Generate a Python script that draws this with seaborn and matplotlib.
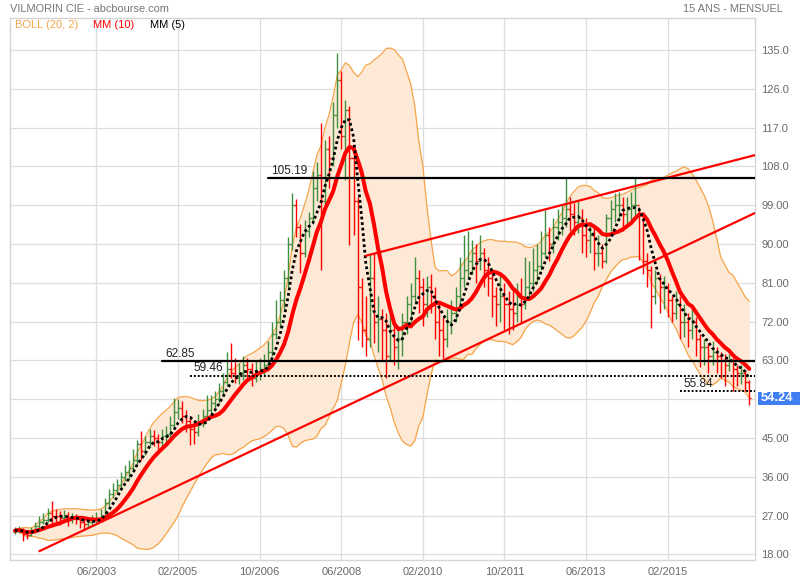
import numpy as np
import pandas as pd
import matplotlib
matplotlib.use("Agg")
import matplotlib.pyplot as plt
import matplotlib.transforms as mtransforms
from matplotlib.patches import Rectangle
import seaborn as sns

# ---------------- data (monthly OHLC, Oct 2001 -> Oct 2016) ----------------
start_month = "2001-10"
opens = [23.3, 23.5, 23.8, 22.8, 22.5, 23.2, 24.5, 25.5, 26.0, 27.5,
         27.0, 26.8, 26.5, 27.0, 26.0, 26.5, 26.2, 25.5, 25.0, 25.5,
         26.0, 26.5, 27.0, 30.0, 32.0, 33.0, 34.0, 36.0, 37.0, 38.0,
         40.0, 43.5, 42.0, 44.0, 45.5, 45.0, 44.0, 45.5, 46.0, 48.0,
         51.0, 52.0, 50.0, 49.0, 47.0, 46.5, 48.5, 50.0, 51.5, 53.0,
         54.0, 56.0, 58.0, 61.0, 60.0, 59.0, 60.0, 62.0, 61.0, 59.0,
         60.0, 61.0, 62.0, 65.0, 69.0, 72.0, 77.0, 82.0, 90.0, 99.0,
         94.0, 88.0, 93.0, 96.0, 103.0, 106.0, 100.0, 112.0, 110.0, 120.0,
         128.0, 115.0, 121.0, 110.0, 100.0, 80.0, 70.0, 68.0, 82.0, 72.0,
         72.5, 70.0, 64.0, 70.0, 66.0, 68.0, 72.0, 76.0, 78.0, 82.0,
         80.0, 76.0, 80.0, 78.0, 72.0, 70.0, 68.0, 72.0, 74.0, 78.0,
         82.0, 84.0, 86.0, 88.0, 86.0, 88.0, 84.0, 82.0, 78.0, 76.0,
         78.0, 76.0, 75.0, 74.0, 78.0, 76.0, 80.0, 81.0, 84.0, 85.0,
         88.0, 92.0, 90.0, 94.0, 95.0, 96.0, 98.0, 97.0, 95.0, 96.0,
         92.0, 91.0, 92.0, 88.0, 88.0, 86.0, 96.0, 98.0, 99.0, 99.0,
         97.0, 98.0, 99.0, 99.0, 97.0, 86.0, 84.0, 78.0, 82.0, 80.0,
         80.0, 77.0, 74.0, 76.0, 72.0, 72.0, 70.0, 72.0, 68.0, 66.0,
         66.0, 64.0, 65.0, 64.0, 63.0, 62.0, 63.0, 61.0, 60.0, 60.0,
         58.0]
highs = [24.3, 24.6, 24.2, 23.6, 24.3, 25.6, 26.8, 27.5, 28.8, 30.4,
         28.6, 28.0, 28.4, 27.8, 27.6, 27.3, 26.8, 26.4, 26.6, 27.2,
         27.8, 28.6, 31.0, 33.2, 34.5, 35.6, 37.2, 38.8, 39.8, 42.5,
         44.5, 46.6, 45.5, 47.0, 46.8, 46.0, 47.0, 47.8, 50.0, 54.3,
         54.0, 53.5, 51.5, 50.0, 48.8, 50.5, 51.8, 55.0, 55.0, 56.0,
         57.8, 60.0, 65.0, 67.0, 63.5, 62.5, 64.0, 63.5, 62.5, 63.0,
         63.5, 64.5, 67.5, 72.0, 77.0, 79.0, 84.0, 91.6, 101.8, 100.5,
         94.6, 95.5, 97.5, 107.0, 109.0, 118.0, 114.0, 115.0, 123.0, 134.3,
         130.0, 123.4, 122.0, 112.0, 101.0, 82.0, 78.0, 88.0, 88.0, 78.0,
         75.0, 74.0, 75.0, 72.0, 71.0, 74.0, 78.0, 81.0, 87.0, 84.0,
         82.0, 82.5, 83.0, 80.0, 76.0, 73.0, 75.0, 77.0, 80.0, 87.0,
         92.0, 93.0, 91.0, 90.0, 92.0, 89.0, 87.0, 83.0, 80.0, 83.0,
         81.0, 79.0, 80.0, 81.0, 82.0, 87.0, 86.0, 89.0, 90.0, 93.0,
         97.9, 94.0, 96.0, 98.0, 99.0, 105.3, 101.0, 99.5, 100.0, 98.0,
         96.0, 95.0, 94.0, 92.0, 90.0, 97.0, 100.2, 101.8, 102.0, 101.0,
         101.0, 102.0, 105.3, 98.6, 97.5, 88.0, 85.0, 84.0, 83.0, 82.5,
         81.0, 78.0, 79.0, 78.0, 76.0, 74.0, 75.0, 73.0, 69.0, 68.0,
         67.0, 67.5, 66.0, 65.0, 64.5, 64.5, 63.5, 62.0, 62.0, 60.5,
         58.4]
lows = [22.8, 22.9, 21.2, 21.5, 22.2, 23.0, 24.0, 25.0, 25.6, 25.0,
        25.4, 24.8, 25.8, 24.6, 25.2, 25.0, 24.2, 23.6, 24.2, 24.8,
        25.2, 25.8, 26.6, 29.2, 31.0, 32.2, 33.0, 35.0, 35.6, 37.0,
        39.0, 39.8, 41.0, 43.0, 43.2, 42.5, 43.0, 44.0, 45.2, 47.5,
        49.5, 48.5, 46.5, 43.4, 43.6, 45.5, 47.5, 49.5, 50.5, 52.0,
        53.0, 55.0, 57.0, 59.0, 57.7, 57.5, 58.5, 58.8, 57.0, 58.0,
        58.5, 59.5, 61.0, 64.0, 68.0, 70.5, 75.0, 80.0, 88.5, 91.5,
        83.2, 87.0, 91.5, 95.0, 100.0, 84.0, 99.0, 103.0, 108.0, 117.0,
        112.0, 104.8, 89.8, 92.0, 67.7, 66.0, 64.0, 66.0, 67.0, 65.0,
        63.0, 59.0, 63.0, 62.0, 61.0, 64.0, 69.0, 72.0, 76.0, 74.0,
        71.0, 73.0, 74.0, 68.0, 64.0, 63.5, 66.0, 69.0, 72.0, 76.0,
        80.0, 82.0, 83.0, 81.0, 84.0, 80.0, 78.0, 73.0, 71.0, 72.0,
        70.0, 69.0, 70.0, 72.0, 72.0, 75.0, 77.0, 79.0, 81.0, 84.0,
        87.0, 86.0, 88.0, 91.0, 92.0, 94.0, 93.0, 92.0, 92.5, 88.0,
        87.0, 88.0, 84.0, 85.0, 84.5, 85.5, 93.0, 95.0, 95.5, 93.0,
        94.0, 95.0, 96.0, 86.3, 83.0, 80.0, 70.5, 76.0, 74.0, 75.0,
        73.0, 72.0, 72.5, 68.0, 68.5, 66.0, 68.0, 64.0, 61.5, 62.0,
        60.0, 62.0, 60.0, 59.0, 57.0, 60.5, 55.84, 57.0, 57.5, 56.0,
        52.6]
closes = [23.5, 23.8, 22.8, 22.5, 23.2, 24.5, 25.5, 26.0, 27.5, 27.0,
          26.8, 26.5, 27.0, 26.0, 26.5, 26.2, 25.5, 25.0, 25.5, 26.0,
          26.5, 27.0, 30.0, 32.0, 33.0, 34.0, 36.0, 37.0, 38.0, 40.0,
          43.5, 42.0, 44.0, 45.5, 45.0, 44.0, 45.5, 46.0, 48.0, 51.0,
          52.0, 50.0, 49.0, 47.0, 46.5, 48.5, 50.0, 51.5, 53.0, 54.0,
          56.0, 58.0, 61.0, 60.0, 59.0, 60.0, 62.0, 61.0, 59.0, 60.0,
          61.0, 62.0, 65.0, 69.0, 72.0, 77.0, 82.0, 90.0, 99.0, 94.0,
          88.0, 93.0, 96.0, 103.0, 106.0, 100.0, 112.0, 110.0, 120.0, 128.0,
          115.0, 121.0, 110.0, 100.0, 80.0, 70.0, 68.0, 82.0, 72.0, 72.5,
          70.0, 64.0, 70.0, 66.0, 68.0, 72.0, 76.0, 78.0, 82.0, 80.0,
          76.0, 80.0, 78.0, 72.0, 70.0, 68.0, 72.0, 74.0, 78.0, 82.0,
          84.0, 86.0, 88.0, 86.0, 88.0, 84.0, 82.0, 78.0, 76.0, 78.0,
          76.0, 75.0, 74.0, 78.0, 76.0, 80.0, 81.0, 84.0, 85.0, 88.0,
          92.0, 90.0, 94.0, 95.0, 96.0, 98.0, 97.0, 95.0, 96.0, 92.0,
          91.0, 92.0, 88.0, 88.0, 86.0, 96.0, 98.0, 99.0, 99.0, 97.0,
          98.0, 99.0, 99.0, 97.0, 86.0, 84.0, 78.0, 82.0, 80.0, 80.0,
          77.0, 74.0, 76.0, 72.0, 72.0, 70.0, 72.0, 68.0, 66.0, 66.0,
          64.0, 65.0, 64.0, 63.0, 62.0, 63.0, 61.0, 60.0, 60.0, 58.0,
          54.24]

x_tick_labels = ["06/2003", "02/2005", "10/2006", "06/2008",
                 "02/2010", "10/2011", "06/2013", "02/2015"]
y_tick_values = [18, 27, 36, 45, 54, 63, 72, 81, 90, 99, 108, 117, 126, 135]
# the 54 label is hidden behind the last-value box in the reference
y_tick_labels = ["18.00", "27.00", "36.00", "45.00", "", "63.00", "72.00",
                 "81.00", "90.00", "99.00", "108.0", "117.0", "126.0", "135.0"]

level_values = [105.19, 62.85, 59.46, 55.84]
level_starts = ["2006-12", "2004-10", "2005-05", "2015-05"]
level_styles = ["solid", "solid", "dotted", "dotted"]

trend_a_months = ["2002-04", "2016-12"]
trend_a_values = [18.75, 97.45]
trend_b_months = ["2008-12", "2016-12"]
trend_b_values = [87.25, 110.75]

last_value_label = "54.24"

# ---------------- helpers ----------------
p0 = pd.Period(start_month, freq="M")


def mpos(s):
    return (pd.Period(s, freq="M") - p0).n


def lpos(lbl):
    m, y = lbl.split("/")
    return mpos(f"{y}-{m}")


df = pd.DataFrame({"t": np.arange(len(closes)), "open": opens, "high": highs,
                   "low": lows, "close": closes})
df["mm5"] = df["close"].rolling(5, min_periods=1).mean()
df["mm10"] = df["close"].rolling(10, min_periods=1).mean()
mid = df["close"].rolling(20, min_periods=1).mean()
sd = df["close"].rolling(20, min_periods=1).std(ddof=0).fillna(0)
df["bb_up"] = mid + 2 * sd
df["bb_lo"] = mid - 2 * sd

# ---------------- figure ----------------
sns.set_theme(style="white")
plt.rcParams["font.family"] = ["Liberation Sans", "DejaVu Sans"]

W, H = 800, 580
fig = plt.figure(figsize=(8, 5.8), dpi=100)
ax = fig.add_axes([10 / W, 1 - 560 / H, 745 / W, 542 / H])

ORANGE = "#f5a54a"
RED = "#ff0000"
GREEN = "#3f8f3f"
GRAY_TXT = "#6a6a6a"

# Bollinger band
ax.fill_between(df["t"], df["bb_lo"], df["bb_up"], color="#fde9d5", lw=0, zorder=1)
sns.lineplot(data=df, x="t", y="bb_up", ax=ax, color=ORANGE, lw=0.9, zorder=2)
sns.lineplot(data=df, x="t", y="bb_lo", ax=ax, color=ORANGE, lw=0.9, zorder=2)

# OHLC bars
up = df["close"] >= df["open"]
cols = np.where(up, GREEN, RED)
ax.vlines(df["t"], df["low"], df["high"], colors=cols, lw=1.0, zorder=3)
ax.hlines(df["open"], df["t"] - 0.5, df["t"], colors=cols, lw=1.0, zorder=3)
ax.hlines(df["close"], df["t"], df["t"] + 0.5, colors=cols, lw=1.0, zorder=3)

# moving averages
sns.lineplot(data=df, x="t", y="mm10", ax=ax, color=RED, lw=2.9, zorder=5)
sns.lineplot(data=df, x="t", y="mm5", ax=ax, color="black", lw=2.0, zorder=6)
ax.lines[-1].set_linestyle((0, (1, 1)))

# trend lines
ax.plot([mpos(m) for m in trend_a_months], trend_a_values, color=RED, lw=1.6, zorder=7)
ax.plot([mpos(m) for m in trend_b_months], trend_b_values, color=RED, lw=1.6, zorder=7)

# horizontal levels
x_right = len(closes) + 1
for v, s, st in zip(level_values, level_starts, level_styles):
    xs = mpos(s)
    if st == "solid":
        ax.plot([xs, x_right], [v, v], color="black", lw=1.6, zorder=8)
    else:
        ax.plot([xs, x_right], [v, v], color="black", lw=1.4,
                linestyle=(0, (1, 1)), zorder=8)
    ax.text(xs + 0.8, v + 0.3, f"{v:.2f}", fontsize=8.5, color="#222222",
            ha="left", va="bottom", zorder=9)

# axes cosmetics
ax.set_xlim(-1.2, 181.4)
ax.set_ylim(16.7, 142.4)
ax.set_xlabel("")
ax.set_ylabel("")
ax.set_xticks([lpos(l) for l in x_tick_labels])
ax.set_xticklabels(x_tick_labels)
ax.set_yticks(y_tick_values)
ax.set_yticklabels(y_tick_labels)
ax.yaxis.tick_right()
ax.tick_params(axis="both", length=0, labelsize=8, labelcolor=GRAY_TXT)
ax.tick_params(axis="y", pad=4.5)
ax.tick_params(axis="x", pad=5)
ax.grid(True, color="#dedede", lw=0.9, zorder=0)
ax.set_axisbelow(True)
for sp in ax.spines.values():
    sp.set_color("#d5d5d5")
    sp.set_linewidth(1.0)

# last value box
trans = mtransforms.blended_transform_factory(ax.transAxes, ax.transData)
ax.add_patch(Rectangle((1.004, closes[-1] - 1.5), 0.07, 3.0, transform=trans,
                       facecolor="#3f7ff3", edgecolor="none", clip_on=False, zorder=20))
ax.text(1.008, closes[-1], last_value_label, transform=trans, color="white",
        fontsize=9.3, fontweight="bold", ha="left", va="center", zorder=21,
        clip_on=False)

# header and legend texts
fig.text(10 / W, 1 - 9 / H, "VILMORIN CIE - abcbourse.com", fontsize=7.9,
         color="#777777", ha="left", va="center")
fig.text(783 / W, 1 - 9 / H, "15 ANS - MENSUEL", fontsize=7.9,
         color="#777777", ha="right", va="center")
fig.text(15 / W, 1 - 25 / H, "BOLL (20, 2)", fontsize=8.0, color=ORANGE,
         ha="left", va="center")
fig.text(93 / W, 1 - 25 / H, "MM (10)", fontsize=8.0, color=RED,
         ha="left", va="center")
fig.text(150 / W, 1 - 25 / H, "MM (5)", fontsize=8.0, color="black",
         ha="left", va="center")

fig.savefig("out.png", dpi=100)
